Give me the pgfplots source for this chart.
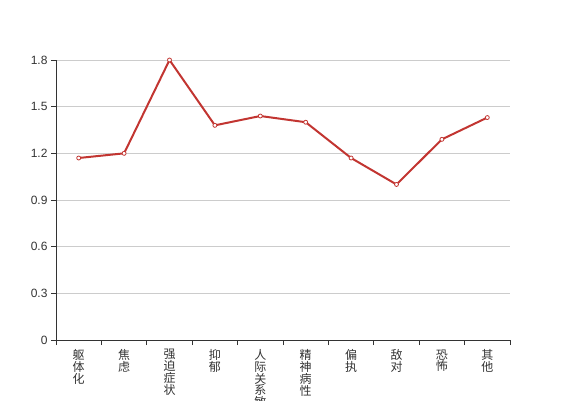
\documentclass[border=0pt]{standalone}
\usepackage{pgfplots}
\pgfplotsset{compat=1.18}
\usepackage{fontspec}
\setmainfont{Liberation Sans}
\newfontfamily\cjk{Noto Sans CJK SC}
\definecolor{ered}{HTML}{C23531}
\definecolor{axisc}{HTML}{333333}
\definecolor{gridc}{HTML}{CCCCCC}
\begin{document}
\begin{tikzpicture}
\useasboundingbox (0pt,0pt) rectangle (567pt,400pt);
\clip (0pt,0pt) rectangle (567pt,400pt);
\begin{axis}[at={(56pt,60pt)}, anchor=south west, scale only axis,
  width=454pt, height=280pt,
  xmin=-0.5, xmax=9.5, ymin=0, ymax=1.8,
  axis lines=left, axis line style={-, draw=axisc, line width=0.8pt},
  ytick={0,0.3,0.6,0.9,1.2,1.5,1.8},
  yticklabels={0,0.3,0.6,0.9,1.2,1.5,1.8},
  ymajorgrids, grid style={draw=gridc, line width=0.8pt},
  tick align=outside, major tick length=5pt, minor tick length=5pt,
  tick style={draw=axisc, line width=0.8pt},
  xtick={0,...,9},
  major x tick style={draw=none},
  minor xtick={-0.5,0.5,...,9.5},
  xticklabels={{躯\\体\\化},{焦\\虑},{强\\迫\\症\\状},{抑\\郁},{人\\际\\关\\系\\敏\\感},{精\\神\\病\\性},{偏\\执},{敌\\对},{恐\\怖},{其\\他}},
  xticklabel style={font=\cjk\fontsize{12}{11.8}\selectfont, align=center, text=axisc, anchor=north, yshift=-1pt},
  yticklabel style={font=\fontsize{12}{14}\selectfont, text=axisc},
  clip=false,
]
\addplot[ered, line width=2pt, mark=*, mark size=2pt, mark options={fill=white, draw=ered, line width=0.8pt}]
coordinates {(0,1.17) (1,1.20) (2,1.80) (3,1.38) (4,1.44) (5,1.40) (6,1.17) (7,1.00) (8,1.29) (9,1.43)};
\end{axis}
\end{tikzpicture}
\end{document}
